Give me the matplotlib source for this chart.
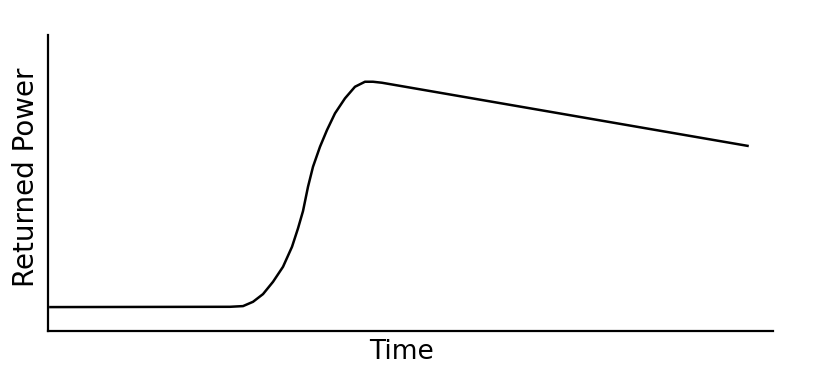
import matplotlib
matplotlib.use("Agg")
import matplotlib.pyplot as plt

# points (time, returned power), arbitrary units
time = [0, 181, 194, 204, 214, 224, 234, 243, 249, 254, 259, 264, 271, 278,
        286, 296, 306, 316, 324, 333, 700]
power = [24, 24.3, 25, 29.3, 37, 49.3, 64.3, 84.3, 102.7, 120, 144.3, 164.3,
         184.3, 201, 217.7, 232.7, 244.3, 249.3, 249.3, 248.3, 185]

fig = plt.figure(figsize=(8.16, 3.85), dpi=100)
ax = fig.add_axes([0.059, 0.140, 0.888, 0.769])

ax.plot(time, power, color="black", linewidth=1.8,
        solid_joinstyle="round", solid_capstyle="butt")

ax.set_xlim(-1, 724)
ax.set_ylim(0, 296)
ax.set_xticks([])
ax.set_yticks([])
for side in ("top", "right"):
    ax.spines[side].set_visible(False)
for side in ("left", "bottom"):
    ax.spines[side].set_linewidth(1.6)

ax.set_xlabel("Time", fontsize=19)
ax.set_ylabel("Returned Power", fontsize=20)
ax.xaxis.set_label_coords(0.4876, -0.027)
ax.yaxis.set_label_coords(-0.011, 0.519)

fig.savefig("out.png", dpi=100)
